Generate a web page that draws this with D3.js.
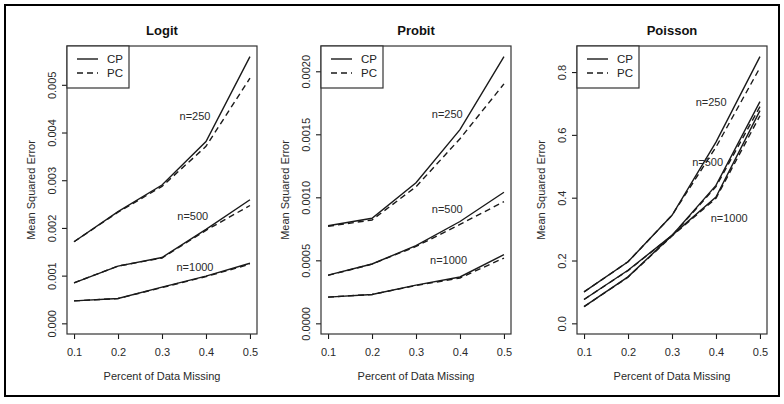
<!DOCTYPE html>
<html>
<head>
<meta charset="utf-8">
<script src="https://cdn.jsdelivr.net/npm/d3@7/dist/d3.min.js"></script>
<style>
  html, body { margin: 0; padding: 0; background: #fff; }
  svg { display: block; }
  text { font-family: "Liberation Sans", Arial, Helvetica, sans-serif; }
</style>
</head>
<body>
<svg id="chart" width="784" height="404"></svg>
<script>
// ---------------- data ----------------
const pctMissing = [0.1, 0.2, 0.3, 0.4, 0.5];
const sampleSizes = ["n=250", "n=500", "n=1000"];
const methods = ["CP", "PC"];

// Logit: rows = n=250, n=500, n=1000
const logitCP = [
  [0.00171, 0.00234, 0.00290, 0.00381, 0.00559],
  [0.00085, 0.00120, 0.00138, 0.00197, 0.00259],
  [0.00047, 0.00052, 0.00076, 0.00099, 0.00126]
];
const logitPC = [
  [0.00171, 0.00233, 0.00287, 0.00371, 0.00514],
  [0.00085, 0.00120, 0.00137, 0.00195, 0.00247],
  [0.00047, 0.00052, 0.00075, 0.00098, 0.00124]
];
// Probit
const probitCP = [
  [0.000774, 0.000834, 0.001116, 0.001537, 0.002116],
  [0.000382, 0.000471, 0.000616, 0.000808, 0.001040],
  [0.000208, 0.000229, 0.000303, 0.000368, 0.000545]
];
const probitPC = [
  [0.000770, 0.000820, 0.001084, 0.001465, 0.001900],
  [0.000380, 0.000470, 0.000610, 0.000785, 0.000966],
  [0.000208, 0.000229, 0.000300, 0.000360, 0.000518]
];
// Poisson
const poissonCP = [
  [0.100, 0.196, 0.344, 0.577, 0.849],
  [0.076, 0.169, 0.280, 0.439, 0.706],
  [0.053, 0.148, 0.280, 0.402, 0.677]
];
const poissonPC = [
  [0.100, 0.196, 0.344, 0.561, 0.814],
  [0.076, 0.168, 0.279, 0.435, 0.690],
  [0.053, 0.147, 0.278, 0.398, 0.661]
];

const xTicks = [0.1, 0.2, 0.3, 0.4, 0.5];
const logitTicks = [0, 0.001, 0.002, 0.003, 0.004, 0.005];
const probitTicks = [0, 0.0005, 0.001, 0.0015, 0.002];
const poissonTicks = [0, 0.2, 0.4, 0.6, 0.8];

const panelTitles = ["Logit", "Probit", "Poisson"];
const xTitle = "Percent of Data Missing";
const yTitle = "Mean Squared Error";

// ---------------- layout ----------------
const panels = [
  { title: panelTitles[0], cp: logitCP, pc: logitPC, ticks: logitTicks, fmt: d3.format(".3f"),
    left: 67, labels: [[0.375, 0.00435], [0.37, 0.00225], [0.375, 0.00118]] },
  { title: panelTitles[1], cp: probitCP, pc: probitPC, ticks: probitTicks, fmt: d3.format(".4f"),
    left: 321, labels: [[0.371, 0.001658], [0.371, 0.00091], [0.374, 0.000505]] },
  { title: panelTitles[2], cp: poissonCP, pc: poissonPC, ticks: poissonTicks, fmt: d3.format(".1f"),
    left: 577, labels: [[0.389, 0.705], [0.381, 0.514], [0.43, 0.334]] }
];
const boxW = 190, boxTop = 46, boxBottom = 334;
const ink = "#1a1a1a";
const txt = "#2a2a2a";

const svg = d3.select("#chart");

// outer frame
svg.append("rect").attr("x", 5).attr("y", 5).attr("width", 774).attr("height", 391)
  .attr("fill", "none").attr("stroke", "#000").attr("stroke-width", 2);

panels.forEach(p => {
  const right = p.left + boxW;
  const xPad = 0.04 * (d3.max(pctMissing) - d3.min(pctMissing));
  const x = d3.scaleLinear()
    .domain([d3.min(pctMissing) - xPad, d3.max(pctMissing) + xPad])
    .range([p.left, right]);
  const m = d3.max([...p.cp.flat(), ...p.pc.flat()]);
  const y = d3.scaleLinear().domain([-0.04 * m, 1.04 * m]).range([boxBottom, boxTop]);

  const g = svg.append("g");

  // title
  g.append("text").attr("x", (p.left + right) / 2).attr("y", 30)
    .attr("text-anchor", "middle").attr("dominant-baseline", "central")
    .attr("font-size", 13).attr("font-weight", "bold").attr("fill", "#111")
    .text(p.title);

  // x axis
  const xa = g.append("g").attr("transform", `translate(0,${boxBottom})`)
    .call(d3.axisBottom(x).tickValues(xTicks).tickFormat(d3.format(".1f"))
      .tickSize(5).tickSizeOuter(0).tickPadding(9));
  xa.select(".domain").remove();
  xa.selectAll("line").attr("stroke", ink).attr("stroke-width", 1.1);
  xa.selectAll("text").attr("font-size", 11).attr("fill", txt)
    .attr("font-family", "'Liberation Sans', Arial, sans-serif");

  // y axis
  const ya = g.append("g").attr("transform", `translate(${p.left},0)`)
    .call(d3.axisLeft(y).tickValues(p.ticks).tickFormat(p.fmt).tickSize(5).tickSizeOuter(0));
  ya.select(".domain").remove();
  ya.selectAll("line").attr("stroke", ink).attr("stroke-width", 1.1);
  ya.selectAll("text")
    .attr("transform", "rotate(-90)")
    .attr("x", 0).attr("y", -15).attr("dy", null)
    .attr("text-anchor", "middle").attr("dominant-baseline", "central")
    .attr("font-size", 11).attr("fill", txt)
    .attr("font-family", "'Liberation Sans', Arial, sans-serif");

  // axis titles
  g.append("text").attr("x", (p.left + right) / 2).attr("y", 376)
    .attr("text-anchor", "middle").attr("dominant-baseline", "central")
    .attr("font-size", 11).attr("fill", txt).text(xTitle);
  g.append("text")
    .attr("transform", `translate(${p.left - 36},${(boxTop + boxBottom) / 2}) rotate(-90)`)
    .attr("text-anchor", "middle").attr("dominant-baseline", "central")
    .attr("font-size", 11).attr("fill", txt).text(yTitle);

  // lines
  const line = d3.line().x((d, i) => x(pctMissing[i])).y(d => y(d));
  [p.cp, p.pc].forEach((series, mi) => {
    series.forEach(vals => {
      g.append("path").datum(vals).attr("d", line)
        .attr("fill", "none").attr("stroke", ink).attr("stroke-width", 1.4)
        .attr("stroke-dasharray", mi === 1 ? "6,4" : null);
    });
  });

  // n labels
  sampleSizes.forEach((lab, i) => {
    g.append("text").attr("x", x(p.labels[i][0])).attr("y", y(p.labels[i][1]))
      .attr("text-anchor", "middle").attr("dominant-baseline", "central")
      .attr("font-size", 11).attr("fill", txt).text(lab);
  });

  // box
  g.append("rect").attr("x", p.left).attr("y", boxTop).attr("width", boxW).attr("height", boxBottom - boxTop)
    .attr("fill", "none").attr("stroke", "#333").attr("stroke-width", 1.2);

  // legend
  const lg = g.append("g").attr("transform", `translate(${p.left},${boxTop})`);
  lg.append("rect").attr("x", 0).attr("y", 0).attr("width", 62).attr("height", 42)
    .attr("fill", "#fff").attr("stroke", "#333").attr("stroke-width", 1.2);
  methods.forEach((meth, i) => {
    const ly = 13 + i * 14;
    lg.append("line").attr("x1", 10).attr("x2", 31).attr("y1", ly).attr("y2", ly)
      .attr("stroke", ink).attr("stroke-width", 1.4)
      .attr("stroke-dasharray", i === 1 ? "6,4" : null);
    lg.append("text").attr("x", 40).attr("y", ly).attr("dominant-baseline", "central")
      .attr("font-size", 11.5).attr("fill", "#222").text(meth);
  });
});
</script>
</body>
</html>
